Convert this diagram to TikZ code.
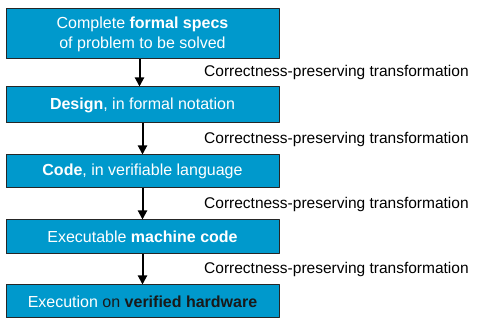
\documentclass[tikz,border=0pt]{standalone}
\usepackage{fontspec}
\setmainfont{Liberation Sans}
\usetikzlibrary{arrows.meta}
\definecolor{stepblue}{RGB}{0,153,204}
\definecolor{darktxt}{RGB}{25,25,25}
\tikzset{
  stagebox/.style={draw=black!85, line width=1pt, fill=stepblue, text=white,
    minimum width=273pt, align=center, inner sep=0pt, font=\fontsize{16}{20}\selectfont},
  xform/.style={anchor=west, inner sep=0pt, font=\fontsize{15.5}{18}\selectfont},
}
\begin{document}
\begin{tikzpicture}[x=1pt, y=1pt, line join=round, >={Triangle[width=9pt,length=9pt]}]
			\useasboundingbox (0,0) rectangle (487,320);
			\node[stagebox, minimum height=50pt] (spec) at (142.5,286) {Complete \textbf{formal specs}\\of problem to be solved};
			\node[stagebox, minimum height=36pt] (design) at (142.5,215) {\textbf{Design}, in formal notation};
			\node[stagebox, minimum height=33pt] (code) at (142.5,148.5) {\textbf{Code}, in verifiable language};
			\node[stagebox, minimum height=34pt] (mcode) at (142.5,83) {Executable \textbf{machine code}};
			\node[stagebox, minimum height=33pt] (exec) at (142.5,18.5) {Execution \textcolor{darktxt}{on \textbf{verified hardware}}};
			\foreach \a/\b/\n/\dx in {spec/design/1/-3, design/code/2/0, code/mcode/3/0, mcode/exec/4/0}{
				\draw[->, line width=2pt] ([xshift=\dx pt]\a.south) -- ([xshift=\dx pt]\b.north) coordinate[pos=0.5] (m\n);
				\node[xform] (t\n) at (204,0 |- m\n) {Correctness-preserving transformation};
			}
			\end{tikzpicture}
\end{document}
